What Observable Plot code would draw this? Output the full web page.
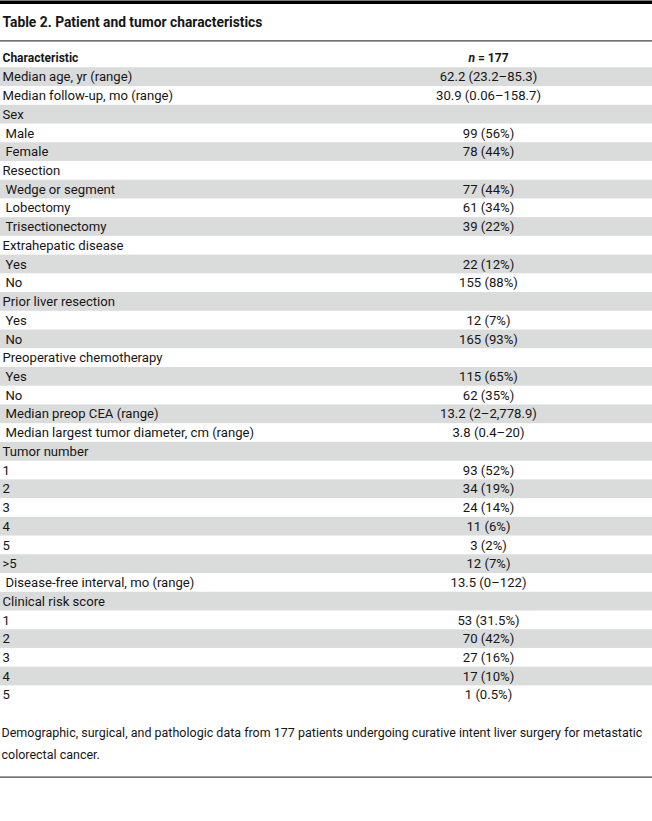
<!DOCTYPE html>
<html><head><meta charset="utf-8">
<script src="https://cdn.jsdelivr.net/npm/d3@7"></script>
<script src="https://cdn.jsdelivr.net/npm/@observablehq/plot@0.6"></script>
<style>
body{margin:0;background:#fff}
</style></head><body><div id="chart"></div>
<script>
const title = "Table 2. Patient and tumor characteristics";
const headerLabel = "Characteristic";
const headerValue = "n = 177";
const characteristics = [
  "Median age, yr (range)", "Median follow-up, mo (range)", "Sex", "Male", "Female",
  "Resection", "Wedge or segment", "Lobectomy", "Trisectionectomy",
  "Extrahepatic disease", "Yes", "No",
  "Prior liver resection", "Yes", "No",
  "Preoperative chemotherapy", "Yes", "No",
  "Median preop CEA (range)", "Median largest tumor diameter, cm (range)",
  "Tumor number", "1", "2", "3", "4", "5", ">5",
  "Disease-free interval, mo (range)",
  "Clinical risk score", "1", "2", "3", "4", "5"
];
const indented = [
  false, false, false, true, true,
  false, true, true, true,
  false, true, true,
  false, true, true,
  false, true, true,
  true, true,
  false, false, false, false, false, false, false,
  true,
  false, false, false, false, false, false
];
const values = [
  "62.2 (23.2–85.3)", "30.9 (0.06–158.7)", "", "99 (56%)", "78 (44%)",
  "", "77 (44%)", "61 (34%)", "39 (22%)",
  "", "22 (12%)", "155 (88%)",
  "", "12 (7%)", "165 (93%)",
  "", "115 (65%)", "62 (35%)",
  "13.2 (2–2,778.9)", "3.8 (0.4–20)",
  "", "93 (52%)", "34 (19%)", "24 (14%)", "11 (6%)", "3 (2%)", "12 (7%)",
  "13.5 (0–122)",
  "", "53 (31.5%)", "70 (42%)", "27 (16%)", "17 (10%)", "1 (0.5%)"
];
const captionLines = [
  "Demographic, surgical, and pathologic data from 177 patients undergoing curative intent liver surgery for metastatic",
  "colorectal cancer."
];

const rows = characteristics.map((label, i) => ({i, label, indent: indented[i], value: values[i]}));

// layout
const W = 652, H = 821;
const ROW0 = 67.3, ROWH = 18.73;
const py = px => (px - ROW0) / ROWH; // page pixel -> row units
const LABEL_X = 2, INDENT = 3, VALUE_X = 488;
const FONT = "Roboto, 'Noto Sans', sans-serif";
const INK = "#161616";

const plot = Plot.plot({
  width: W, height: H, margin: 0,
  style: {fontFamily: FONT, fontSize: "13px", color: INK, background: "#fff", overflow: "visible"},
  x: {type: "linear", domain: [0, W], range: [0, W], axis: null},
  y: {type: "linear", domain: [0, rows.length], range: [ROW0, ROW0 + rows.length * ROWH], axis: null},
  marks: [
    Plot.rect(rows.filter(d => d.i % 2 === 0), {y1: "i", y2: d => d.i + 1, fill: "#dadbdb"}),
    Plot.ruleY([py(1.7)], {stroke: "#000", strokeWidth: 3.4}),
    Plot.ruleY([py(40.3)], {stroke: "#444", strokeWidth: 1.3}),
    Plot.ruleY([py(776.7)], {stroke: "#444", strokeWidth: 1.3}),
    Plot.text([title], {x: LABEL_X, y: py(22), text: d => d, textAnchor: "start", lineAnchor: "middle", fontWeight: "bold", fontSize: 14, fill: INK}),
    Plot.text([headerLabel], {x: LABEL_X, y: py(57.3), text: d => d, textAnchor: "start", lineAnchor: "middle", fontWeight: "bold", fontSize: 12.5, fill: INK}),
    Plot.text([headerValue], {x: VALUE_X, y: py(57.3), text: d => d, textAnchor: "middle", lineAnchor: "middle", fontWeight: "bold", fontSize: 12.5, fill: INK}),
    Plot.text(rows, {x: d => LABEL_X + (d.indent ? INDENT : 0), y: d => d.i + 0.5, text: "label", textAnchor: "start", lineAnchor: "middle", fill: INK}),
    Plot.text(rows, {x: VALUE_X, y: d => d.i + 0.5, text: "value", textAnchor: "middle", lineAnchor: "middle", fill: INK}),
    Plot.text(captionLines, {x: LABEL_X - 1, y: (d, i) => py(732 + i * 22), text: d => d, textAnchor: "start", lineAnchor: "middle", fill: INK})
  ]
});
document.getElementById("chart").appendChild(plot);

// italic "n" in the header
d3.select(plot).selectAll("text").filter(function() { return this.textContent === headerValue; })
  .each(function() {
    const t = d3.select(this);
    t.text(null);
    t.append("tspan").attr("font-style", "italic").text("n");
    t.append("tspan").text(" = 177");
  });

// condense glyphs horizontally to match the narrow typeface of the original
const groups = Array.from(plot.querySelectorAll("g[aria-label='text']"));
function textOf(g, s) { return Array.from(g.querySelectorAll("text")).find(t => t.textContent === s); }
function condense(g, s) {
  g.querySelectorAll("text").forEach(t => {
    let tr = t.getAttribute("transform");
    if (!tr) {
      tr = `translate(${t.getAttribute("x") || 0},${t.getAttribute("y") || 0})`;
      t.removeAttribute("x"); t.removeAttribute("y");
    }
    t.setAttribute("transform", `${tr} scale(${s},1)`);
  });
}
const fit = (g, s, target) => target / textOf(g, s).getComputedTextLength();
const sTitle = fit(groups[0], title, 260);
const sHead = fit(groups[1], headerLabel, 76);
const sBody = fit(groups[3], "Median largest tumor diameter, cm (range)", 249);
const sCap = fit(groups[5], captionLines[0], 641);
condense(groups[0], sTitle);
condense(groups[1], sHead);
condense(groups[2], sHead);
condense(groups[3], sBody);
condense(groups[4], sBody);
condense(groups[5], sCap);
</script>
</body></html>
